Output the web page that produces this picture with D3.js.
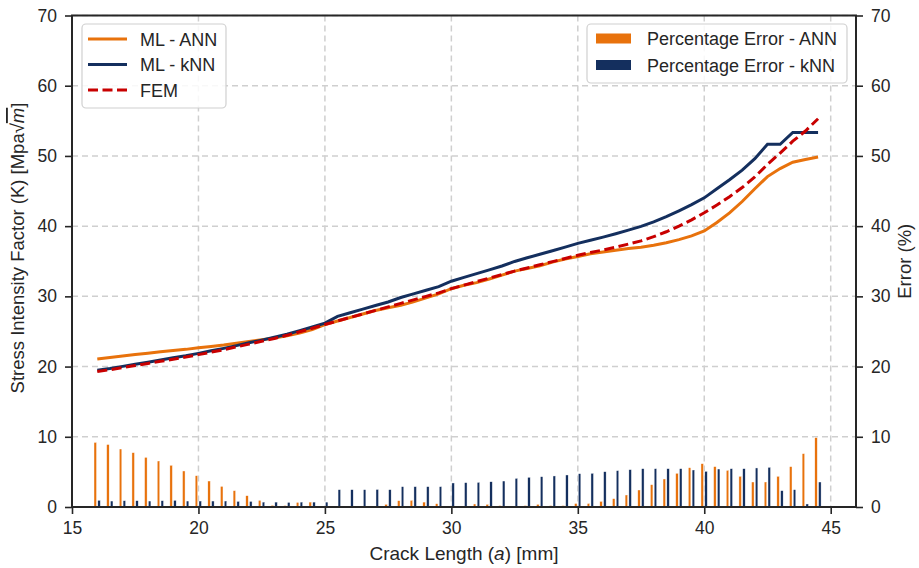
<!DOCTYPE html>
<html><head><meta charset="utf-8">
<script src="https://cdn.jsdelivr.net/npm/d3@7/dist/d3.min.js"></script>
<style>body{margin:0;background:#fff;} text{font-family:"Liberation Sans",Arial,sans-serif;fill:#262626;}</style>
</head><body><svg id="c" width="919" height="568"></svg>
<script>
const crack = [16,16.5,17,17.5,18,18.5,19,19.5,20,20.5,21,21.5,22,22.5,23,23.5,24,24.5,25,25.5,26,26.5,27,27.5,28,28.5,29,29.5,30,30.5,31,31.5,32,32.5,33,33.5,34,34.5,35,35.5,36,36.5,37,37.5,38,38.5,39,39.5,40,40.5,41,41.5,42,42.5,43,43.5,44,44.5];
const fem = [19.3,19.55,19.85,20.15,20.45,20.75,21.05,21.35,21.7,22.05,22.4,22.8,23.2,23.6,24.0,24.45,24.95,25.45,26.0,26.5,27.0,27.5,28.0,28.5,29.0,29.5,30.0,30.5,31.1,31.6,32.1,32.6,33.1,33.6,34.05,34.5,34.95,35.4,35.85,36.25,36.6,37.0,37.45,37.9,38.5,39.2,40.0,40.9,41.9,43.0,44.2,45.5,47.0,48.8,50.4,52.1,53.55,55.3];
const mlKnn = [19.48,19.72,20.03,20.33,20.62,20.94,21.25,21.53,21.88,22.24,22.59,22.98,23.39,23.77,24.17,24.61,25.12,25.63,26.18,27.15,27.67,28.18,28.7,29.2,29.84,30.36,30.87,31.38,32.16,32.7,33.23,33.77,34.32,34.97,35.49,35.99,36.49,37.01,37.55,37.99,38.44,38.92,39.44,39.97,40.6,41.34,42.18,43.06,44.03,45.33,46.61,47.98,49.61,51.65,51.65,53.35,53.35,53.35];
const mlAnn = [21.08,21.29,21.49,21.71,21.9,22.11,22.3,22.45,22.67,22.87,23.06,23.33,23.57,23.82,24.06,24.4,24.79,25.27,25.97,26.49,26.99,27.49,27.99,28.39,28.74,29.22,29.79,30.36,31.09,31.57,31.96,32.48,33.03,33.59,33.98,34.37,34.88,35.33,35.67,36.07,36.31,36.56,36.81,36.98,37.28,37.64,38.08,38.61,39.31,40.53,41.89,43.51,45.33,47.06,48.2,49.1,49.5,49.84];
const errAnn = [9.2,8.9,8.26,7.74,7.07,6.55,5.94,5.13,4.46,3.7,2.94,2.33,1.61,0.95,0.24,0.2,0.66,0.7,0.1,0.05,0.05,0.05,0.05,0.38,0.9,0.95,0.7,0.47,0.05,0.1,0.43,0.38,0.2,0.05,0.2,0.38,0.2,0.2,0.5,0.5,0.8,1.19,1.71,2.42,3.18,3.99,4.8,5.6,6.17,5.75,5.22,4.37,3.56,3.56,4.37,5.75,7.6,9.88];
const errKnn = [0.95,0.85,0.9,0.9,0.85,0.9,0.95,0.85,0.85,0.85,0.85,0.8,0.8,0.7,0.7,0.66,0.7,0.7,0.7,2.47,2.47,2.47,2.5,2.47,2.9,2.9,2.9,2.9,3.42,3.47,3.51,3.6,3.7,4.08,4.23,4.32,4.42,4.56,4.75,4.8,5.03,5.18,5.32,5.46,5.46,5.46,5.46,5.27,5.08,5.41,5.46,5.46,5.56,5.65,2.33,2.47,0.43,3.56];
const xTicks = [15,20,25,30,35,40,45];
const yTicks = [0,10,20,30,40,50,60,70];

const orange = "#E8720C", navy = "#142F5E", red = "#C80000";
const svg = d3.select("#c");
const L = 72, R = 856, T = 15.5, B = 507;
const x = d3.scaleLinear().domain([15,46]).range([L,R]);
const y = d3.scaleLinear().domain([0,70]).range([B,T]);
const y2 = d3.scaleLinear().domain([0,70]).range([B,T]);

// grid
const g = svg.append("g");
g.selectAll(".vx").data(xTicks).join("line").attr("x1",d=>x(d)).attr("x2",d=>x(d)).attr("y1",T).attr("y2",B)
 .attr("stroke","#cfcfcf").attr("stroke-width",1.5).attr("stroke-dasharray","6,4");
g.selectAll(".hy").data(yTicks).join("line").attr("x1",L).attr("x2",R).attr("y1",d=>y(d)).attr("y2",d=>y(d))
 .attr("stroke","#cfcfcf").attr("stroke-width",1.5).attr("stroke-dasharray","6,4");

// bars
const bw = x(15.1)-x(15);
svg.append("g").selectAll("rect").data(crack).join("rect")
 .attr("x",(d)=>x(d-0.08)-bw/2).attr("width",bw)
 .attr("y",(d,i)=>y2(errAnn[i])).attr("height",(d,i)=>B-y2(errAnn[i]))
 .attr("fill",orange).attr("stroke","#fff").attr("stroke-width",0.4);
svg.append("g").selectAll("rect").data(crack).join("rect")
 .attr("x",(d)=>x(d+0.07)-bw/2).attr("width",bw)
 .attr("y",(d,i)=>y2(errKnn[i])).attr("height",(d,i)=>B-y2(errKnn[i]))
 .attr("fill",navy).attr("stroke","#fff").attr("stroke-width",0.4);

// lines
const line = arr => d3.line().x((d,i)=>x(crack[i])).y(d=>y(d))(arr);
svg.append("path").attr("d",line(mlAnn)).attr("fill","none").attr("stroke",orange).attr("stroke-width",3);
svg.append("path").attr("d",line(mlKnn)).attr("fill","none").attr("stroke",navy).attr("stroke-width",3);
svg.append("path").attr("d",line(fem)).attr("fill","none").attr("stroke",red).attr("stroke-width",3).attr("stroke-dasharray","10,4.5");

// axes
const fs = "17.5px";
const ax = svg.append("g").attr("transform",`translate(0,${B})`).call(d3.axisBottom(x).tickValues(xTicks).tickSize(7).tickPadding(8));
const ayl = svg.append("g").attr("transform",`translate(${L},0)`).call(d3.axisLeft(y).tickValues(yTicks).tickSize(7).tickPadding(8));
const ayr = svg.append("g").attr("transform",`translate(${R},0)`).call(d3.axisRight(y2).tickValues(yTicks).tickSize(7).tickPadding(8));
[ax,ayl,ayr].forEach(a=>{
  a.select(".domain").remove();
  a.selectAll("line").attr("stroke","#262626").attr("stroke-width",1.6);
  a.selectAll("text").style("font-size",fs).style("font-family","Liberation Sans, Arial, sans-serif").attr("fill","#262626");
});
svg.append("rect").attr("x",L).attr("y",T).attr("width",R-L).attr("height",B-T).attr("fill","none").attr("stroke","#262626").attr("stroke-width",2);

// axis labels
svg.append("text").attr("x",(L+R)/2).attr("y",560).attr("text-anchor","middle").style("font-size","19px")
 .html('Crack Length (<tspan font-style="italic">a</tspan>) [mm]');
const yl = svg.append("text").attr("transform",`translate(24,248) rotate(-90)`).attr("text-anchor","middle").style("font-size","18.5px");
yl.append("tspan").text("Stress Intensity Factor (K) [Mpa");
yl.append("tspan").text("√");
yl.append("tspan").attr("font-style","italic").style("text-decoration","overline").text("m");
yl.append("tspan").text("]");
svg.append("text").attr("transform",`translate(911,${(T+B)/2}) rotate(-90)`).attr("text-anchor","middle").style("font-size","18.5px").text("Error (%)");

// legend left
const lg = svg.append("g");
lg.append("rect").attr("x",82).attr("y",24).attr("width",144).attr("height",84).attr("rx",4)
 .attr("fill","#fff").attr("fill-opacity",0.85).attr("stroke","#d0d0d0").attr("stroke-width",1.2);
const leftItems = [["ML - ANN",orange,null],["ML - kNN",navy,null],["FEM",red,"10,4.5"]];
leftItems.forEach((it,i)=>{
  const yy = 39+i*25.5;
  lg.append("line").attr("x1",88).attr("x2",127).attr("y1",yy).attr("y2",yy).attr("stroke",it[1]).attr("stroke-width",3).attr("stroke-dasharray",it[2]);
  lg.append("text").attr("x",140).attr("y",yy+6.5).style("font-size","18px").text(it[0]);
});
// legend right
const rg = svg.append("g");
rg.append("rect").attr("x",587).attr("y",24).attr("width",260).attr("height",59).attr("rx",4)
 .attr("fill","#fff").attr("fill-opacity",0.85).attr("stroke","#d0d0d0").attr("stroke-width",1.2);
const rightItems = [["Percentage Error - ANN",orange],["Percentage Error - kNN",navy]];
rightItems.forEach((it,i)=>{
  const yy = 38.5+i*26.5;
  rg.append("rect").attr("x",596).attr("y",yy-5).attr("width",35).attr("height",10).attr("fill",it[1]);
  rg.append("text").attr("x",647).attr("y",yy+6.5).style("font-size","18px").text(it[0]);
});
</script></body></html>
